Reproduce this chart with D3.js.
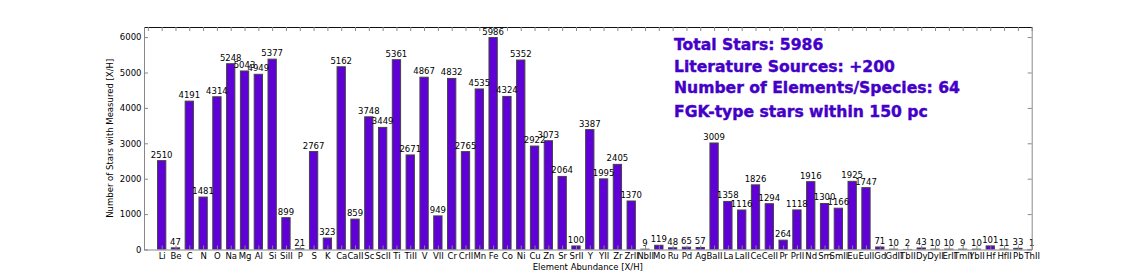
<!DOCTYPE html>
<html>
<head>
<meta charset="utf-8">
<script src="https://cdn.jsdelivr.net/npm/d3@7"></script>
<style>
  body { margin: 0; background: #fff; }
  svg text { font-family: "DejaVu Sans", sans-serif; }
</style>
</head>
<body>
<svg id="chart"></svg>
<script>
var elements = ['Li', 'Be', 'C', 'N', 'O', 'Na', 'Mg', 'Al', 'Si', 'SiII', 'P', 'S', 'K', 'Ca', 'CaII',
  'Sc', 'ScII', 'Ti', 'TiII', 'V', 'VII', 'Cr', 'CrII', 'Mn', 'Fe', 'Co', 'Ni', 'Cu', 'Zn', 'Sr', 'SrII',
  'Y', 'YII', 'Zr', 'ZrII', 'NbII', 'Mo', 'Ru', 'Pd', 'Ag', 'BaII', 'La', 'LaII', 'Ce', 'CeII', 'Pr',
  'PrII', 'Nd', 'Sm', 'SmII', 'Eu', 'EuII', 'Gd', 'GdII', 'TbII', 'Dy', 'DyII', 'ErII', 'TmII', 'YbII',
  'Hf', 'HfII', 'Pb', 'ThII'];

var starCounts = [2510, 47, 4191, 1481, 4314, 5248, 5043, 4949, 5377, 899, 21, 2767, 323, 5162, 859,
  3748, 3449, 5361, 2671, 4867, 949, 4832, 2765, 4535, 5986, 4324, 5352, 2922, 3073, 2064, 100,
  3387, 1995, 2405, 1370, 9, 119, 48, 65, 57, 3009, 1358, 1116, 1826, 1294, 264,
  1118, 1916, 1300, 1166, 1925, 1747, 71, 10, 2, 43, 10, 10, 9, 10,
  101, 11, 33, 1];

var yTicks = [0, 1000, 2000, 3000, 4000, 5000, 6000];

var notes = ['Total Stars: 5986', 'Literature Sources: +200',
  'Number of Elements/Species: 64', 'FGK-type stars within 150 pc'];

var width = 1144;
var height = 278;
var padLeft = 144;
var padTop = 27;
var plotWidth = 887.7;
var plotHeight = 222.5;
var barWidth = 0.6;
var barColor = '#5f00d6';
var noteColor = '#4400c6';

var svg = d3.select('#chart')
  .attr('width', width)
  .attr('height', height);

var x = d3.scaleLinear()
  .domain([-1.28, 63])
  .range([0, plotWidth]);

var y = d3.scaleLinear()
  .domain([0, 6285])
  .range([plotHeight, 0]);

var plot = svg.append('g')
  .attr('transform', 'translate(' + padLeft + ',' + padTop + ')');

plot.append('clipPath')
  .attr('id', 'plot-clip')
  .append('rect')
    .attr('width', plotWidth)
    .attr('height', plotHeight);

// bars
plot.append('g')
  .attr('clip-path', 'url(#plot-clip)')
  .selectAll('rect')
  .data(starCounts)
  .enter().append('rect')
    .attr('x', function(d, i) { return x(i - barWidth / 2); })
    .attr('width', x(barWidth) - x(0))
    .attr('y', function(d) { return y(d); })
    .attr('height', function(d) { return plotHeight - y(d); })
    .attr('fill', barColor)
    .attr('stroke', '#444')
    .attr('stroke-width', 1);

// value labels
plot.append('g')
  .selectAll('text')
  .data(starCounts)
  .enter().append('text')
    .attr('x', function(d, i) { return x(i); })
    .attr('y', function(d) { return y(d) - 3; })
    .attr('text-anchor', 'middle')
    .attr('font-size', '8.5px')
    .attr('fill', '#000')
    .text(function(d) { return d; });

function styleAxis(g, color) {
  g.select('.domain').attr('stroke', color).attr('stroke-width', 1);
  g.selectAll('.tick line').attr('stroke', '#888');
  g.selectAll('.tick text').attr('font-size', '8.5px').attr('fill', '#000')
    .attr('font-family', '"DejaVu Sans", sans-serif');
}

var indices = elements.map(function(d, i) { return i; });

plot.append('g')
  .attr('transform', 'translate(0,' + plotHeight + ')')
  .call(d3.axisBottom(x)
    .tickValues(indices)
    .tickFormat(function(i) { return elements[i]; })
    .tickSize(-4)
    .tickSizeOuter(0)
    .tickPadding(3.5))
  .call(styleAxis, '#888');

plot.append('g')
  .call(d3.axisTop(x)
    .tickValues([-1].concat(indices))
    .tickFormat('')
    .tickSize(-4)
    .tickSizeOuter(0))
  .call(styleAxis, '#111');

plot.append('g')
  .call(d3.axisLeft(y)
    .tickValues(yTicks)
    .tickFormat(d3.format('d'))
    .tickSize(-4)
    .tickSizeOuter(0)
    .tickPadding(2.5))
  .call(styleAxis, '#888');

plot.append('g')
  .attr('transform', 'translate(' + plotWidth + ',0)')
  .call(d3.axisRight(y)
    .tickValues(yTicks)
    .tickFormat('')
    .tickSize(-4)
    .tickSizeOuter(0))
  .call(styleAxis, '#888');

// axis titles
svg.append('text')
  .attr('x', padLeft + plotWidth / 2)
  .attr('y', 270)
  .attr('text-anchor', 'middle')
  .attr('font-size', '8.5px')
  .text('Element Abundance [X/H]');

svg.append('text')
  .attr('transform', 'translate(113,' + (padTop + plotHeight / 2) + ') rotate(-90)')
  .attr('text-anchor', 'middle')
  .attr('font-size', '8.5px')
  .text('Number of Stars with Measured [X/H]');

// annotation block
var noteY = [50, 71.7, 93.3, 117.3];
svg.append('g')
  .selectAll('text')
  .data(notes)
  .enter().append('text')
    .attr('x', 674)
    .attr('y', function(d, i) { return noteY[i]; })
    .attr('font-family', '"Liberation Sans", Arial, sans-serif')
    .attr('font-weight', 'bold')
    .attr('font-size', '15.6px')
    .attr('fill', noteColor)
    .attr('stroke', noteColor)
    .attr('stroke-width', 0.4)
    .text(function(d) { return d; });
</script>
</body>
</html>
